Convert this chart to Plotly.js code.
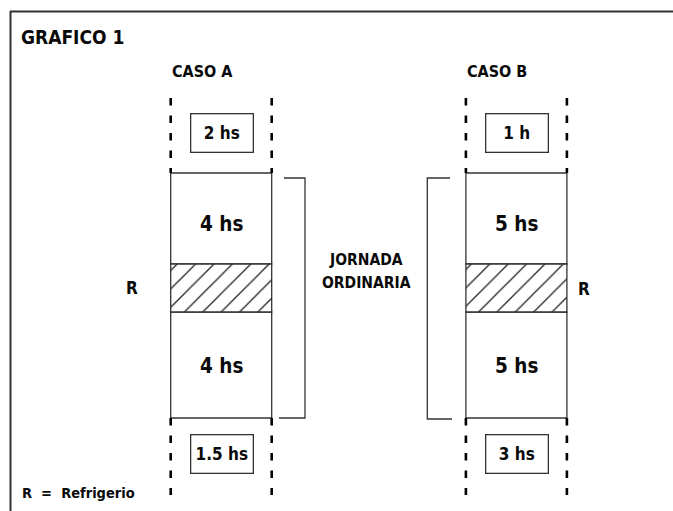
<!DOCTYPE html>
<html>
<head>
<meta charset="utf-8">
<script src="https://cdn.plot.ly/plotly-3.0.1.min.js"></script>
<style>html,body{margin:0;padding:0;background:#fff;}#chart{width:673px;height:511px;}</style>
</head>
<body>
<div id="chart"></div>
<script>
// ---- data ----
const chartTitle = "GRAFICO 1";
const cases = ["CASO A", "CASO B"];
const beforeHours = ["2 hs", "1 h"];
const firstBlock = ["4 hs", "5 hs"];
const breakLabel = "R";
const secondBlock = ["4 hs", "5 hs"];
const afterHours = ["1.5 hs", "3 hs"];
const bracketLines = ["JORNADA", "ORDINARIA"];
const legendLabel = "R  =  Refrigerio";

// ---- layout geometry (pixel-like diagram coordinates) ----
const W = 673, H = 511;
const colCenter = [221.2, 516.4];
const colWidth = 101;
const yDashTop = 98, yColTop = 173, yHatchTop = 264, yHatchBot = 312, yColBot = 418, yDashBot = 495;
const FONT = '"Liberation Sans Narrow", "Arial Narrow", "DejaVu Sans Condensed", sans-serif';
const ink = '#0a0a0a';
const lineCol = '#333';

function font(size) { return {family: FONT, size: size, color: ink, weight: 'bold'}; }

const traces = [];
// solid column segments
const segs = [[yColTop, yHatchTop], [yHatchBot, yColBot]];
segs.forEach(s => {
  traces.push({
    type: 'bar', x: colCenter, base: cases.map(() => s[0]), y: cases.map(() => s[1] - s[0]),
    width: colWidth, marker: {color: '#fff', line: {color: lineCol, width: 1.3}},
    hoverinfo: 'skip', showlegend: false
  });
});
// hatched break segment
traces.push({
  type: 'bar', x: colCenter, base: cases.map(() => yHatchTop), y: cases.map(() => yHatchBot - yHatchTop),
  width: colWidth,
  marker: {color: '#fff', line: {color: lineCol, width: 1.3},
           pattern: {shape: '/', size: 13, solidity: 0.1, fgcolor: '#222', bgcolor: '#fff', fillmode: 'replace'}},
  hoverinfo: 'skip', showlegend: false
});
// dashed guides
const dx = [], dy = [];
cases.forEach((c, i) => {
  [colCenter[i] - colWidth / 2, colCenter[i] + colWidth / 2].forEach(xx => {
    dx.push(xx, xx, null, xx, xx, null);
    dy.push(yDashTop, yColTop, null, yColBot, yDashBot, null);
  });
});
traces.push({type: 'scatter', mode: 'lines', x: dx, y: dy, line: {color: '#000', width: 2.6, dash: '7.5px,10px'},
  hoverinfo: 'skip', showlegend: false});
// brackets
const bA = {x: [284, 305, 305, 279], y: [178, 178, 418, 418]};
const bB = {x: [450, 427.3, 427.3, 452], y: [178, 178, 419, 419]};
[bA, bB].forEach(b => traces.push({type: 'scatter', mode: 'lines', x: b.x, y: b.y,
  line: {color: lineCol, width: 1.3}, hoverinfo: 'skip', showlegend: false}));

const ann = [];
ann.push({x: 19, y: 37, xanchor: 'left', yanchor: 'middle', text: chartTitle, font: font(19), showarrow: false});
cases.forEach((c, i) => {
  const left = colCenter[i] - colWidth / 2;
  ann.push({x: left - 1, y: 71, xanchor: 'left', yanchor: 'middle', text: c, font: font(16), showarrow: false});
  ann.push({x: colCenter[i] + 1, y: 132.5, xanchor: 'center', yanchor: 'middle', text: beforeHours[i], font: font(17),
    showarrow: false, width: 59, height: 35, bordercolor: lineCol, borderwidth: 1.3, borderpad: 1, align: 'center', valign: 'middle'});
  ann.push({x: colCenter[i], y: 223.5, xanchor: 'center', yanchor: 'middle', text: firstBlock[i], font: font(20.5), showarrow: false});
  ann.push({x: colCenter[i], y: 366, xanchor: 'center', yanchor: 'middle', text: secondBlock[i], font: font(20.5), showarrow: false});
  ann.push({x: colCenter[i] + 1, y: 453.5, xanchor: 'center', yanchor: 'middle', text: afterHours[i], font: font(17),
    showarrow: false, width: 59, height: 35, bordercolor: lineCol, borderwidth: 1.3, borderpad: 1, align: 'center', valign: 'middle'});
});
ann.push({x: 131.7, y: 288, xanchor: 'center', yanchor: 'middle', text: breakLabel, font: font(17), showarrow: false});
ann.push({x: 583.5, y: 289, xanchor: 'center', yanchor: 'middle', text: breakLabel, font: font(17), showarrow: false});
bracketLines.forEach((t, k) => {
  ann.push({x: 366, y: 260 + k * 22.5, xanchor: 'center', yanchor: 'middle', text: t, font: font(15.5), showarrow: false});
});
ann.push({x: 20, y: 493, xanchor: 'left', yanchor: 'middle', text: legendLabel, font: font(14.5), showarrow: false});

const shapes = [
  {type: 'line', xref: 'x', yref: 'y', x0: 10, x1: W, y0: 11.5, y1: 11.5, line: {color: '#333', width: 2}},
  {type: 'line', xref: 'x', yref: 'y', x0: 10.5, x1: 10.5, y0: 11, y1: H, line: {color: '#333', width: 2}}
];

const layout = {
  width: W, height: H, margin: {l: 0, r: 0, t: 0, b: 0},
  paper_bgcolor: '#fff', plot_bgcolor: '#fff',
  barmode: 'overlay',
  xaxis: {range: [0, W], visible: false, fixedrange: true},
  yaxis: {range: [H, 0], visible: false, fixedrange: true},
  annotations: ann, shapes: shapes, showlegend: false
};
Plotly.newPlot('chart', traces, layout, {staticPlot: true});
</script>
</body>
</html>
